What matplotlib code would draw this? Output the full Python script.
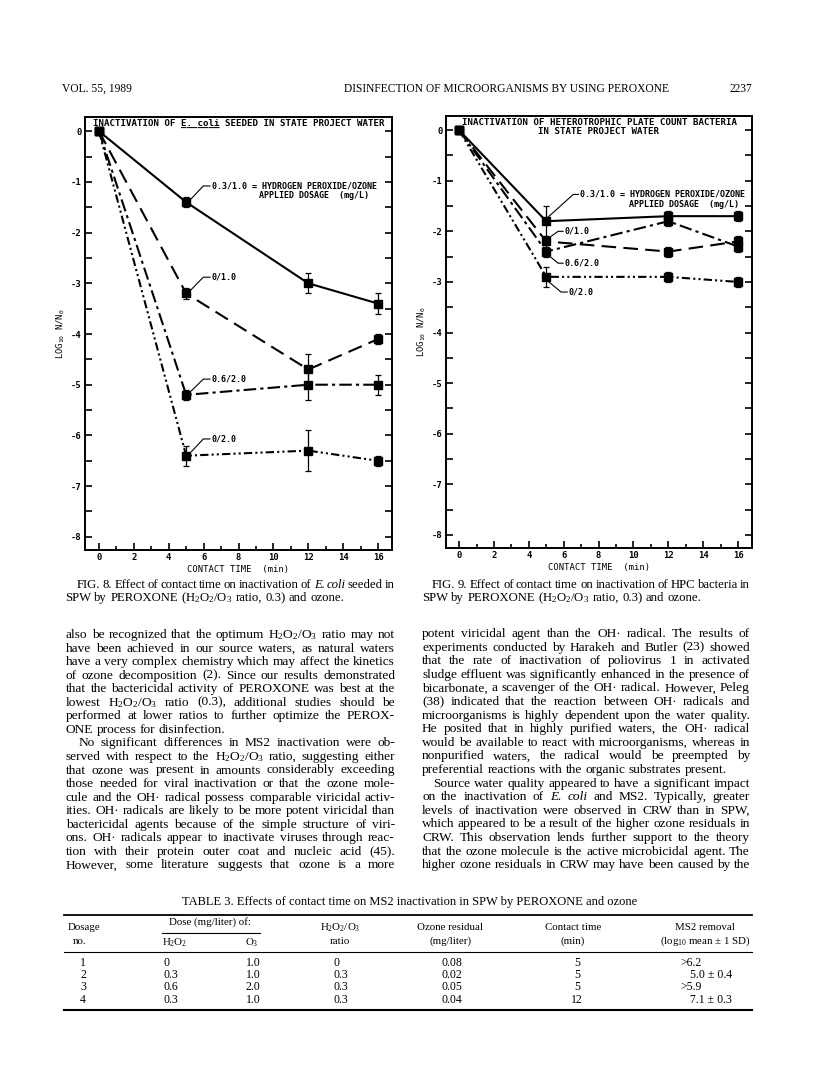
import matplotlib
matplotlib.use("Agg")
import matplotlib.pyplot as plt
from matplotlib.lines import Line2D
from matplotlib.ticker import MultipleLocator

plt.rcParams["axes.unicode_minus"] = False
plt.rcParams["mathtext.default"] = "regular"
plt.rcParams["font.family"] = "DejaVu Sans Mono"
plt.rcParams["font.weight"] = "bold"

W, H = 816, 1078
SERIF = "Liberation Serif"
H2O2 = "H$_2$O$_2$"
RATIO = "H$_2$O$_2$/O$_3$"

# contact time (min)
times = [0, 5, 12, 16]
doses = ["0.3/1.0", "0/1.0", "0.6/2.0", "0/2.0"]

# Fig. 8: E. coli, log10 N/N0 and SD
ecoli_03_10 = [0, -1.4, -3.0, -3.4]
ecoli_0_10 = [0, -3.2, -4.7, -4.1]
ecoli_06_20 = [0, -5.2, -5.0, -5.0]
ecoli_0_20 = [0, -6.4, -6.3, -6.5]
ecoli_sd_03_10 = [0, 0.1, 0.2, 0.2]
ecoli_sd_0_10 = [0, 0.1, 0.3, 0.1]
ecoli_sd_06_20 = [0, 0.1, 0.3, 0.2]
ecoli_sd_0_20 = [0, 0.2, 0.4, 0.1]

# Fig. 9: HPC bacteria, log10 N/N0 and SD
hpc_03_10 = [0, -1.8, -1.7, -1.7]
hpc_0_10 = [0, -2.2, -2.4, -2.2]
hpc_06_20 = [0, -2.4, -1.8, -2.3]
hpc_0_20 = [0, -2.9, -2.9, -3.0]
hpc_sd_03_10 = [0, 0.3, 0.1, 0.1]
hpc_sd_0_10 = [0, 0.1, 0.1, 0.1]
hpc_sd_06_20 = [0, 0.1, 0.1, 0.1]
hpc_sd_0_20 = [0, 0.2, 0.1, 0.1]

# Table 3
dosage_no = ["1", "2", "3", "4"]
dose_h2o2 = ["0", "0.3", "0.6", "0.3"]
dose_o3 = ["1.0", "1.0", "2.0", "1.0"]
ratio = ["0", "0.3", "0.3", "0.3"]
ozone_residual = ["0.08", "0.02", "0.05", "0.04"]
contact_time = ["5", "5", "5", "12"]
ms2_removal = [">6.2", "5.0 ± 0.4", ">5.9", "7.1 ± 0.3"]

left_body = [
    f"also be recognized that the optimum {RATIO} ratio may not",
    "have been achieved in our source waters, as natural waters",
    "have a very complex chemistry which may affect the kinetics",
    "of ozone decomposition (2). Since our results demonstrated",
    "that the bactericidal activity of PEROXONE was best at the",
    f"lowest {RATIO} ratio (0.3), additional studies should be",
    "performed at lower ratios to further optimize the PEROX-",
    "ONE process for disinfection.",
    "No significant differences in MS2 inactivation were ob-",
    f"served with respect to the {RATIO} ratio, suggesting either",
    "that ozone was present in amounts considerably exceeding",
    "those needed for viral inactivation or that the ozone mole-",
    "cule and the OH· radical possess comparable viricidal activ-",
    "ities. OH· radicals are likely to be more potent viricidal than",
    "bactericidal agents because of the simple structure of viri-",
    "ons. OH· radicals appear to inactivate viruses through reac-",
    "tion with their protein outer coat and nucleic acid (45).",
    "However, some literature suggests that ozone is a more",
]
right_body = [
    "potent viricidal agent than the OH· radical. The results of",
    "experiments conducted by Harakeh and Butler (23) showed",
    "that the rate of inactivation of poliovirus 1 in activated",
    "sludge effluent was significantly enhanced in the presence of",
    "bicarbonate, a scavenger of the OH· radical. However, Peleg",
    "(38) indicated that the reaction between OH· radicals and",
    "microorganisms is highly dependent upon the water quality.",
    "He posited that in highly purified waters, the OH· radical",
    "would be available to react with microorganisms, whereas in",
    "nonpurified waters, the radical would be preempted by",
    "preferential reactions with the organic substrates present.",
    "Source water quality appeared to have a significant impact",
    "on the inactivation of ~E. ~coli and MS2. Typically, greater",
    "levels of inactivation were observed in CRW than in SPW,",
    "which appeared to be a result of the higher ozone residuals in",
    "CRW. This observation lends further support to the theory",
    "that the ozone molecule is the active microbicidal agent. The",
    "higher ozone residuals in CRW may have been caused by the",
]

fig = plt.figure(figsize=(8.16, 10.78), dpi=100)
renderer = fig.canvas.get_renderer()


def ftext(x, y, s, **kw):
    kw.setdefault("family", SERIF)
    kw.setdefault("fontweight", "normal")
    return fig.text(x / W, 1 - y / H, s, **kw)


def hline(x0, x1, y, lw=1.0):
    fig.add_artist(Line2D([x0 / W, x1 / W], [1 - y / H] * 2, color="black", lw=lw))


def set_line(text, x0, x1, yb, size=10, justify=True):
    objs = []
    for w in text.split(" "):
        style = "normal"
        if w.startswith("~"):
            w, style = w[1:], "italic"
        objs.append(ftext(x0, yb, w, fontsize=size, style=style, va="baseline"))
    widths = [o.get_window_extent(renderer).width for o in objs]
    gap = size * 100 / 72 * 0.25
    if justify and len(objs) > 1:
        gap = (x1 - x0 - sum(widths)) / (len(objs) - 1)
    x = x0
    for o, w in zip(objs, widths):
        o.set_x(x / W)
        x += w + gap


styles = ["-", (0, (7, 3.5)), (0, (6, 2, 1.5, 2)), (0, (4, 1.5, 1, 1.5, 1, 1.5))]


def panel(rect, xlim, ylim, series, errs, titles, leaders):
    ax = fig.add_axes(rect)
    for y, e, ls in zip(series, errs, styles):
        ax.errorbar(times, y, yerr=e, color="black", lw=1.5, linestyle=ls,
                    marker="s", ms=6, capsize=2.3, elinewidth=0.9, capthick=0.9)
    ax.set_xlim(*xlim)
    ax.set_ylim(*ylim)
    ax.xaxis.set_major_locator(MultipleLocator(2))
    ax.xaxis.set_minor_locator(MultipleLocator(1))
    ax.yaxis.set_major_locator(MultipleLocator(1))
    ax.yaxis.set_minor_locator(MultipleLocator(0.5))
    ax.tick_params(which="both", direction="in", top=False, right=True,
                   labelsize=6.4, width=1.2, pad=2.5)
    ax.tick_params(axis="y", which="both", length=5)
    ax.tick_params(axis="x", which="major", length=5)
    ax.tick_params(axis="x", which="minor", length=3)
    for s in ax.spines.values():
        s.set_linewidth(1.4)
    ax.set_xlabel("CONTACT TIME  (min)", fontsize=6.4, labelpad=2)
    ax.set_ylabel("LOG$_{10}$ N/N$_0$", fontsize=6.4, labelpad=3)
    for ty, t in titles:
        ax.text(0.5, ty, t, transform=ax.transAxes, ha="center", va="center", fontsize=6.6)
    for pts, lab in leaders:
        xs, ys = zip(*pts)
        ax.plot(xs, ys, color="black", lw=0.8)
        ax.text(xs[-1] + 0.1, ys[-1], lab, fontsize=6.0, va="center", ha="left")
    return ax


t8 = "INACTIVATION OF E. coli SEEDED IN STATE PROJECT WATER"
u8 = " " * 16 + "_" * 7 + " " * 30
ax8 = panel([85 / W, 1 - 550 / H, 307 / W, 433 / H], (-0.8, 16.8), (-8.26, 0.28),
            [ecoli_03_10, ecoli_0_10, ecoli_06_20, ecoli_0_20],
            [ecoli_sd_03_10, ecoli_sd_0_10, ecoli_sd_06_20, ecoli_sd_0_20],
            [(0.984, t8), (0.986, u8)],
            [([(5.3, -1.33), (5.98, -1.08), (6.36, -1.08)], "0.3/1.0 = HYDROGEN PEROXIDE/OZONE"),
             ([(5.3, -3.12), (5.98, -2.88), (6.36, -2.88)], "0/1.0"),
             ([(5.3, -5.12), (5.98, -4.89), (6.36, -4.89)], "0.6/2.0"),
             ([(5.3, -6.32), (5.98, -6.07), (6.36, -6.07)], "0/2.0")])
ax8.text(9.2, -1.27, "APPLIED DOSAGE  (mg/L)", fontsize=6.0, va="center")

ax9 = panel([446 / W, 1 - 548 / H, 306 / W, 432 / H], (-0.75, 16.8), (-8.26, 0.28),
            [hpc_03_10, hpc_0_10, hpc_06_20, hpc_0_20],
            [hpc_sd_03_10, hpc_sd_0_10, hpc_sd_06_20, hpc_sd_0_20],
            [(0.984, "INACTIVATION OF HETEROTROPHIC PLATE COUNT BACTERIA"),
             (0.963, "IN STATE PROJECT WATER")],
            [([(5.1, -1.72), (6.55, -1.27), (6.85, -1.27)], "0.3/1.0 = HYDROGEN PEROXIDE/OZONE"),
             ([(5.15, -2.13), (5.68, -2.0), (5.96, -2.0)], "0/1.0"),
             ([(5.15, -2.48), (5.68, -2.63), (5.96, -2.63)], "0.6/2.0"),
             ([(5.15, -3.0), (5.85, -3.2), (6.2, -3.2)], "0/2.0")])
ax9.text(9.75, -1.46, "APPLIED DOSAGE  (mg/L)", fontsize=6.0, va="center")

# running head
ftext(62, 89, "VOL. 55, 1989", fontsize=8.3, va="center")
ftext(344, 89, "DISINFECTION OF MICROORGANISMS BY USING PEROXONE", fontsize=8.3, va="center")
ftext(730, 89, "2237", fontsize=8.3, va="center")

# figure captions
set_line("FIG. 8. Effect of contact time on inactivation of ~E. ~coli seeded in", 77, 395, 588, 9.2)
set_line(f"SPW by PEROXONE ({RATIO} ratio, 0.3) and ozone.", 65, 395, 601, 9.2, False)
set_line("FIG. 9. Effect of contact time on inactivation of HPC bacteria in", 432, 750, 588, 9.2)
set_line(f"SPW by PEROXONE ({RATIO} ratio, 0.3) and ozone.", 422, 750, 601, 9.2, False)

# body text
for i, line in enumerate(left_body):
    set_line(line, 79 if i == 8 else 66, 395, 638 + i * 13.55, 9.6, i not in (7,))
for i, line in enumerate(right_body):
    set_line(line, 433 if i == 11 else 422, 750, 637 + i * 13.6, 9.6, i not in (10,))

# table 3
ftext(410, 902, "TABLE 3. Effects of contact time on MS2 inactivation in SPW by PEROXONE and ozone",
      fontsize=9.0, ha="center", va="center")
hline(64, 752, 915, 1.3)
hline(162, 260, 933, 0.8)
hline(64, 752, 952, 0.8)
hline(64, 752, 1010, 1.5)
hk = dict(fontsize=7.8, va="center")
ftext(68, 928, "Dosage", **hk)
ftext(73, 941, "no.", **hk)
ftext(210, 922, "Dose (mg/liter) of:", ha="center", **hk)
ftext(162, 943, H2O2, **hk)
ftext(245, 943, "O$_3$", **hk)
ftext(340, 928, RATIO, ha="center", **hk)
ftext(340, 941, "ratio", ha="center", **hk)
ftext(450, 928, "Ozone residual", ha="center", **hk)
ftext(450, 941, "(mg/liter)", ha="center", **hk)
ftext(573, 928, "Contact time", ha="center", **hk)
ftext(573, 941, "(min)", ha="center", **hk)
ftext(705, 928, "MS2 removal", ha="center", **hk)
ftext(705, 941, "(log$_{10}$ mean ± 1 SD)", ha="center", **hk)
rk = dict(fontsize=8.5, va="center")
for i in range(4):
    y = 963 + i * 12.2
    ftext(83, y, dosage_no[i], ha="center", **rk)
    ftext(163, y, dose_h2o2[i], **rk)
    ftext(253, y, dose_o3[i], ha="center", **rk)
    ftext(333, y, ratio[i], **rk)
    ftext(442, y, ozone_residual[i], **rk)
    ftext(577, y, contact_time[i], ha="center", **rk)
    ftext(680 if ms2_removal[i].startswith(">") else 690, y, ms2_removal[i], **rk)

fig.savefig("out.png", dpi=100)
